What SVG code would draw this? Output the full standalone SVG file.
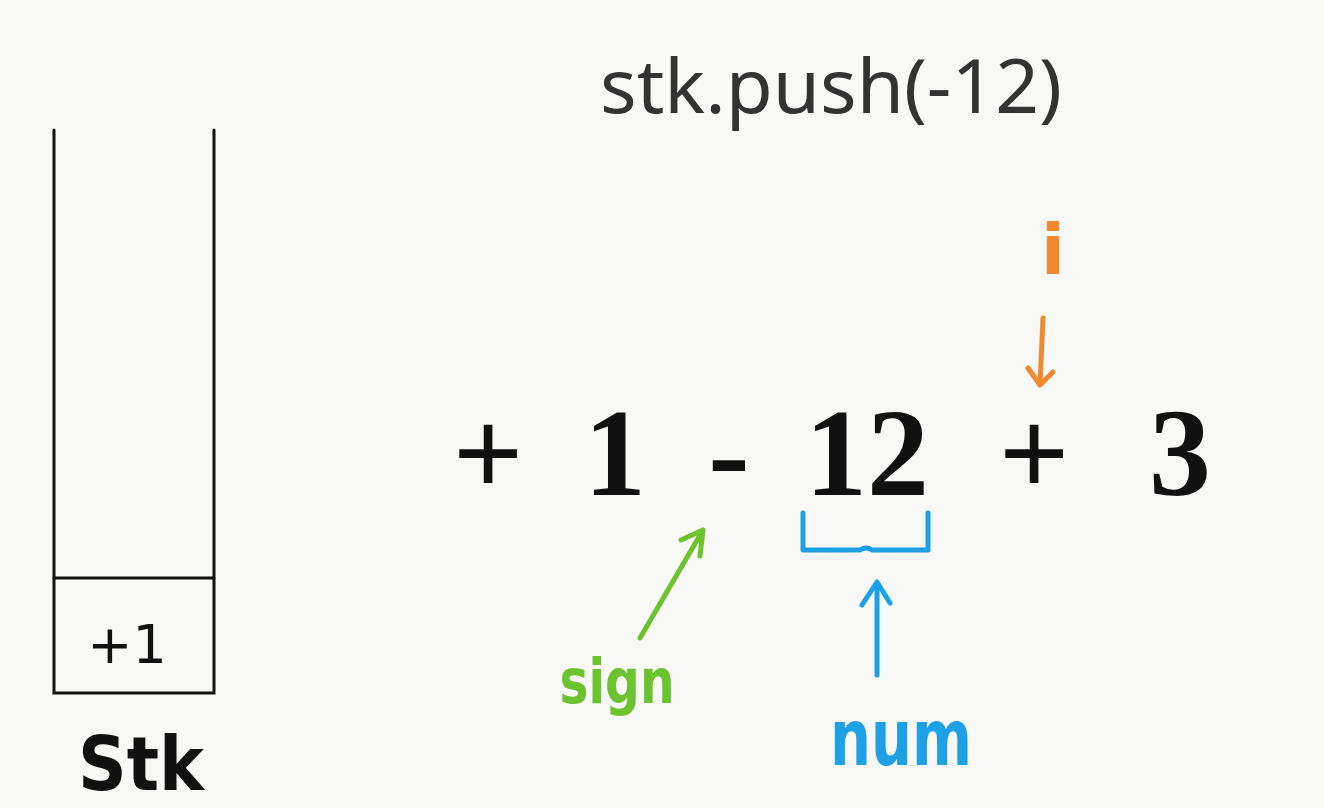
<svg xmlns="http://www.w3.org/2000/svg" width="1324" height="808" viewBox="0 0 1324 808">
<style>
.ink{fill:none;stroke:#111;stroke-width:3;stroke-linecap:round}
.hand{font-family:"DejaVu Sans","Noto Sans",sans-serif;font-weight:bold}
.expr{font-family:"Liberation Serif","DejaVu Serif",serif;font-size:124px;fill:#111;text-anchor:middle;font-weight:bold}
.green{stroke:#6cc22f;fill:none;stroke-width:5;stroke-linecap:round;stroke-linejoin:round}
.blue{stroke:#1ea0e6;fill:none;stroke-width:5;stroke-linecap:round;stroke-linejoin:round}
.orange{stroke:#f0892f;fill:none;stroke-width:5;stroke-linecap:round;stroke-linejoin:round}
</style>
<rect width="1324" height="808" fill="#f8f8f6"/>
<g id="stack">
<path class="ink" d="M54 130 V693 H214 V130"/>
<line class="ink" x1="54" y1="578" x2="214" y2="578"/>
<text x="127" y="663" font-family="DejaVu Sans, sans-serif" font-size="54" text-anchor="middle" fill="#111">+1</text>
<text class="hand" x="141" y="790" font-size="74" text-anchor="middle" fill="#111" textLength="126" lengthAdjust="spacingAndGlyphs">Stk</text>
</g>
<g id="title">
<text x="600" y="113" font-family="Noto Sans, Open Sans, sans-serif" font-size="74" fill="#333" textLength="462" lengthAdjust="spacingAndGlyphs">stk.push(-12)</text>
</g>
<g id="expression">
<text class="expr" x="488" y="495">+</text>
<text class="expr" x="615" y="495">1</text>
<text class="expr" x="729" y="495">-</text>
<text class="expr" x="867" y="495">12</text>
<text class="expr" x="1034" y="495">+</text>
<text class="expr" x="1180" y="495">3</text>
</g>
<g id="connectors">
<path class="green" d="M640 638 L703 530 M681 540 L703 530 L700 556"/>
<path class="blue" d="M803 513 V550 H860 Q866 546 872 550 H928 V513"/>
<path class="blue" d="M877 675 V582 M862 605 L877 582 L890 603"/>
<path class="orange" d="M1043 318 L1040 385 M1028 368 L1040 385 L1053 372"/>
</g>
<g id="labels">
<text class="hand" x="617" y="703" font-size="62" text-anchor="middle" fill="#6cc22f" textLength="115" lengthAdjust="spacingAndGlyphs">sign</text>
<text class="hand" x="901" y="765" font-size="78" text-anchor="middle" fill="#1ea0e6" textLength="142" lengthAdjust="spacingAndGlyphs">num</text>
<text class="hand" x="1053" y="274" font-size="70" text-anchor="middle" fill="#f0892f">i</text>
</g>
</svg>
